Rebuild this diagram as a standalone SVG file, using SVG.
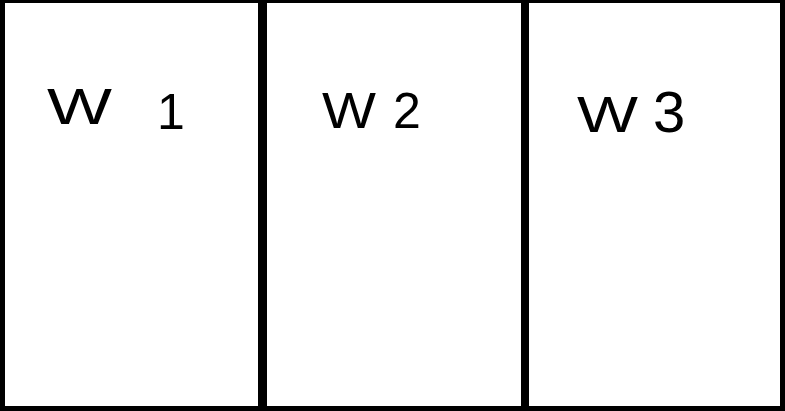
<svg xmlns="http://www.w3.org/2000/svg" width="785" height="411" viewBox="0 0 785 411">
<style>
.frame{fill:#000}
.panel{fill:#fff}
.lbl{font-family:"Liberation Sans","DejaVu Sans",sans-serif;font-size:50px;fill:#000}
</style>
<rect class="frame" x="0" y="0" width="785" height="411"/>
<g id="w1">
<rect class="panel" x="5" y="3" width="253" height="403"/>
<text class="lbl" x="47" y="124"><tspan textLength="65" lengthAdjust="spacingAndGlyphs">W</tspan> <tspan x="157" y="129">1</tspan></text>
</g>
<g id="w2">
<rect class="panel" x="267" y="3" width="254" height="403"/>
<text class="lbl" x="322" y="128"><tspan textLength="54" lengthAdjust="spacingAndGlyphs">W</tspan><tspan x="393">2</tspan></text>
</g>
<g id="w3">
<rect class="panel" x="529" y="3" width="251" height="403"/>
<text class="lbl" x="577" y="132"><tspan textLength="61" lengthAdjust="spacingAndGlyphs">W</tspan><tspan x="653" style="font-size:58px">3</tspan></text>
</g>
<g id="connectors"/>
</svg>
